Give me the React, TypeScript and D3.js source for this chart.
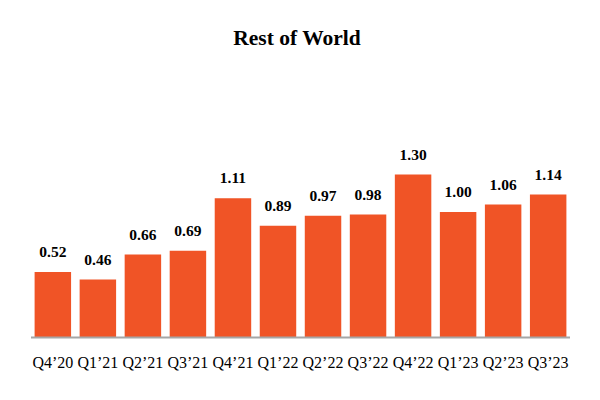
import React, { useEffect, useRef } from 'react'
import * as d3 from 'd3'

const quarters = ["Q4’20", "Q1’21", "Q2’21", "Q3’21", "Q4’21", "Q1’22", "Q2’22", "Q3’22", "Q4’22", "Q1’23", "Q2’23", "Q3’23"]
const values = [0.52, 0.46, 0.66, 0.69, 1.11, 0.89, 0.97, 0.98, 1.30, 1.00, 1.06, 1.14]
const chartTitle = 'Rest of World'

export default function App() {
  const container = useRef<SVGSVGElement>(null)

  useEffect(() => {
    if (!container.current) return
    const width = 600
    const height = 400
    const margin = { left: 31, right: 30, baseline: 337 }

    const svg = d3.select(container.current)
    svg.selectAll('*').remove()

    // scales
    const x = d3.scaleBand<string>()
      .domain(quarters)
      .range([margin.left, width - margin.right])
      .paddingInner(0.19)
      .paddingOuter(0.08)
    const y = d3.scaleLinear().domain([0, 1.3]).range([margin.baseline, 174.5])

    svg.append('rect').attr('width', width).attr('height', height).attr('fill', '#fff')

    // title
    svg.append('text')
      .attr('x', 297)
      .attr('y', 45)
      .attr('text-anchor', 'middle')
      .attr('font-family', '"Liberation Serif", "Times New Roman", serif')
      .attr('font-weight', 'bold')
      .attr('font-size', 21.5)
      .attr('fill', '#000')
      .text(chartTitle)

    const data = quarters.map((q, i) => ({ q, v: values[i] }))

    // bars
    svg.append('g').selectAll('rect')
      .data(data)
      .join('rect')
      .attr('x', d => x(d.q)!)
      .attr('width', x.bandwidth())
      .attr('y', d => y(d.v))
      .attr('height', d => y(0) - y(d.v))
      .attr('fill', '#F05426')

    // value labels
    svg.append('g').selectAll('text')
      .data(data)
      .join('text')
      .attr('x', d => x(d.q)! + x.bandwidth() / 2)
      .attr('y', d => y(d.v) - 15)
      .attr('text-anchor', 'middle')
      .attr('font-family', '"Liberation Serif", "Times New Roman", serif')
      .attr('font-weight', 'bold')
      .attr('font-size', 15.5)
      .attr('fill', '#000')
      .text(d => d.v.toFixed(2))

    // baseline
    svg.append('line')
      .attr('x1', margin.left)
      .attr('x2', width - margin.right)
      .attr('y1', margin.baseline + 0.5)
      .attr('y2', margin.baseline + 0.5)
      .attr('stroke', '#a6a6a6')
      .attr('stroke-width', 2)

    // category labels
    svg.append('g').selectAll('text')
      .data(data)
      .join('text')
      .attr('x', d => x(d.q)! + x.bandwidth() / 2)
      .attr('y', 368)
      .attr('text-anchor', 'middle')
      .attr('font-family', '"Liberation Serif", "Times New Roman", serif')
      .attr('font-size', 16)
      .attr('fill', '#000')
      .text(d => d.q)
  }, [])

  return (
    <svg ref={container} width={600} height={400}
      style={{ position: 'absolute', left: 0, top: 0, display: 'block' }} />
  )
}
